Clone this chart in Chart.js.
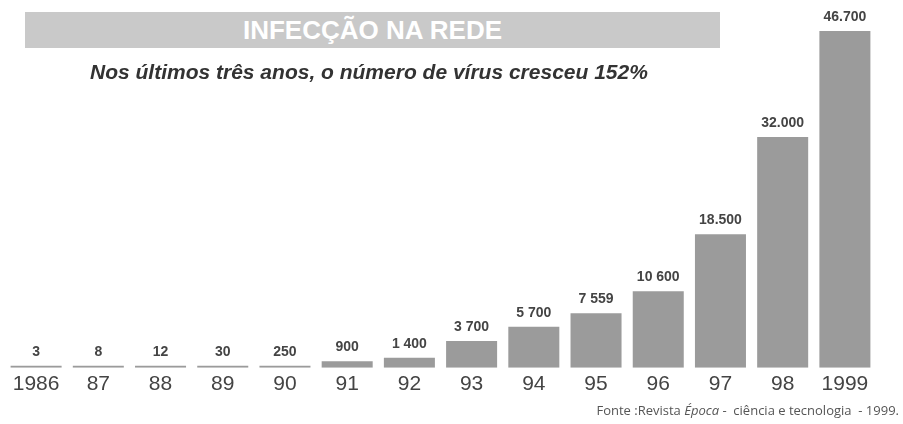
<!DOCTYPE html>
<html><head><meta charset="utf-8">
<script src="https://cdn.jsdelivr.net/npm/chart.js@4/dist/chart.umd.min.js"></script>
<style>
html,body{margin:0;padding:0;background:#fff;}
#wrap{position:relative;width:903px;height:424px;overflow:hidden;}
canvas{position:absolute;left:0;top:0;}
#banner{position:absolute;left:25px;top:12px;width:695px;height:36px;background:#c9c9c9;color:#fff;
 font-family:"Liberation Sans Narrow","Liberation Sans",Arial,sans-serif;font-weight:bold;font-size:26px;
 text-align:center;line-height:37px;}
#sub{position:absolute;left:90px;top:60px;font-family:"Liberation Sans Narrow","Liberation Sans",Arial,sans-serif;
 font-weight:bold;font-style:italic;font-size:21px;color:#333;white-space:nowrap;}
#src{position:absolute;right:4px;top:401px;font-family:"Open Sans",sans-serif;font-size:13px;color:#555;white-space:nowrap;}
</style></head>
<body><div id="wrap">
<canvas id="c" width="903" height="424"></canvas>
<div id="banner">INFECÇÃO NA REDE</div>
<div id="sub">Nos últimos três anos, o número de vírus cresceu 152%</div>
<div id="src">Fonte :Revista <i>Época</i> -&nbsp; ciência e tecnologia&nbsp; - 1999.</div>
</div>
<script>
const years = ["1986","87","88","89","90","91","92","93","94","95","96","97","98","1999"];
const viruses = [3,8,12,30,250,900,1400,3700,5700,7559,10600,18500,32000,46700];
const valueLabels = ["3","8","12","30","250","900","1 400","3 700","5 700","7 559","10 600","18.500","32.000","46.700"];

const valuePlugin = {
  id:'vals',
  afterDatasetsDraw(chart){
    const ctx = chart.ctx;
    const meta = chart.getDatasetMeta(0);
    ctx.save();
    ctx.font = 'bold 14px "Liberation Sans", Arial, sans-serif';
    ctx.fillStyle = '#444';
    ctx.textAlign = 'center';
    ctx.textBaseline = 'bottom';
    meta.data.forEach((bar,i)=>{
      ctx.fillText(valueLabels[i], bar.x, bar.y - 7);
    });
    ctx.restore();
  }
};

new Chart(document.getElementById('c'), {
  type:'bar',
  data:{labels:years, datasets:[{data:viruses, backgroundColor:'#9b9b9b', borderWidth:0,
    barPercentage:0.82, categoryPercentage:1, minBarLength:2}]},
  options:{
    responsive:false, animation:false,
    layout:{padding:{left:5,right:27,top:10,bottom:23}},
    plugins:{legend:{display:false}, tooltip:{enabled:false}},
    scales:{
      x:{grid:{display:false, drawTicks:false}, border:{display:false},
        ticks:{color:'#444', font:{family:'"Liberation Sans", Arial, sans-serif', size:21}, padding:4, maxRotation:0, autoSkip:false}},
      y:{display:false, min:0, max:49600}
    }
  },
  plugins:[valuePlugin]
});
</script>
</body></html>
